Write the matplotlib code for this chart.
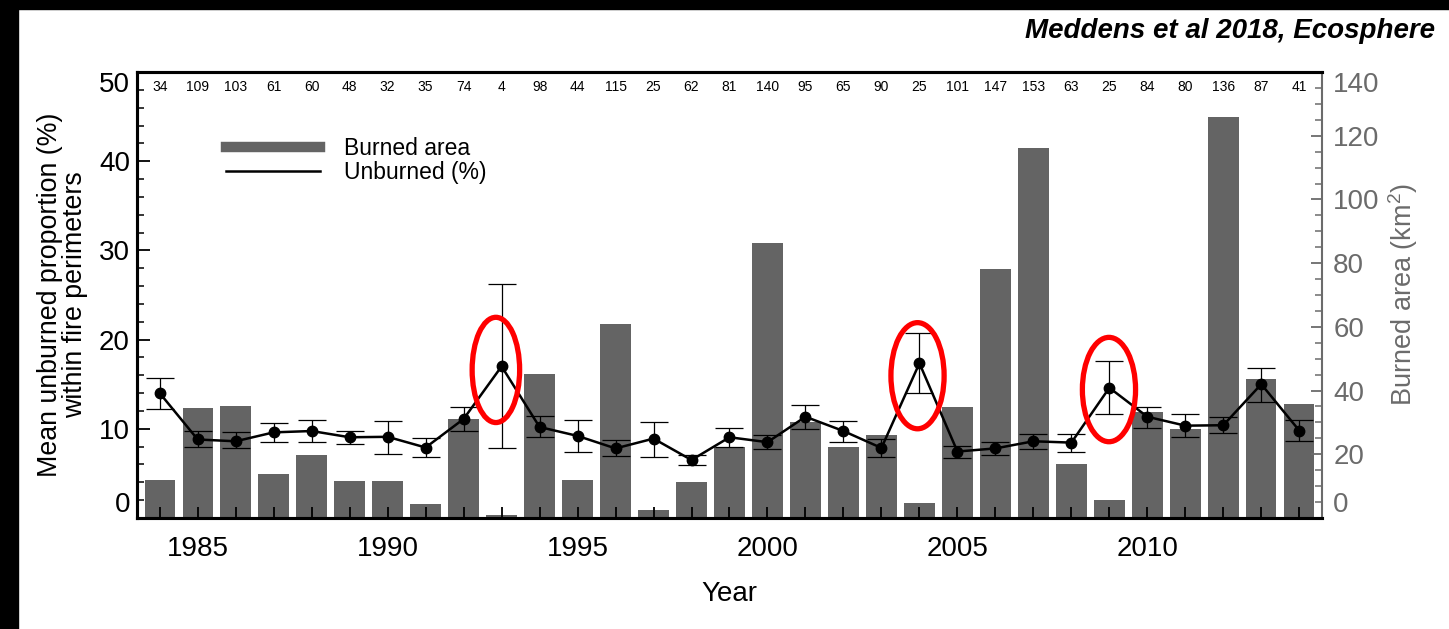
import numpy as np
import matplotlib
matplotlib.use("Agg")
import matplotlib.pyplot as plt
from matplotlib.patches import Ellipse, Rectangle
from matplotlib.ticker import MultipleLocator, FixedLocator, FuncFormatter
from matplotlib.lines import Line2D

plt.rcParams['font.family'] = ['Liberation Sans', 'DejaVu Sans']

years = list(range(1984, 2015))
n_fires = [34, 109, 103, 61, 60, 48, 32, 35, 74, 4, 98, 44, 115, 25, 62, 81,
           140, 95, 65, 90, 25, 101, 147, 153, 63, 25, 84, 80, 136, 87, 41]
unburned = [14.0, 8.8, 8.6, 9.6, 9.75, 9.05, 9.1, 7.9, 11.1, 17.0, 10.2, 9.2,
            7.8, 8.9, 6.5, 9.05, 8.5, 11.35, 9.75, 7.85, 17.35, 7.45, 7.8, 8.6,
            8.45, 14.6, 11.35, 10.35, 10.4, 15.0, 9.8]
unburned_hi = [15.7, 9.7, 9.6, 10.7, 11.0, 9.75, 10.9, 9.0, 12.4, 26.2, 11.4,
               11.0, 8.7, 10.8, 7.1, 10.1, 9.3, 12.7, 10.9, 8.9, 20.7, 8.1,
               8.55, 9.4, 9.45, 17.6, 12.45, 11.65, 11.3, 16.85, 11.0]
unburned_lo = [12.2, 8.0, 7.8, 8.5, 8.5, 8.3, 7.2, 6.8, 9.8, 7.9, 9.05, 7.35,
               6.9, 6.85, 5.95, 7.95, 7.75, 10.0, 8.5, 6.85, 14.05, 6.75, 7.05,
               7.7, 7.35, 11.65, 10.1, 9.05, 9.55, 13.0, 8.65]
burned_area = [11.9, 34.5, 35.2, 13.8, 19.8, 11.6, 11.6, 4.4, 31.1, 0.9, 45.2,
               11.9, 60.9, 2.5, 11.3, 22.3, 86.3, 30.2, 22.3, 26.0, 4.7, 34.8,
               78.2, 116.1, 16.9, 5.6, 33.3, 27.9, 125.9, 43.6, 35.9]
highlight_years = [1993, 2004, 2009]

bar_color = '#646464'
grey_axis = '#6b6b6b'

fig = plt.figure(figsize=(14.49, 6.29), dpi=100)
ax = fig.add_axes([0.0945, 0.1765, 0.8179, 0.709])
ax2 = ax.twinx()

# bars on right axis
ax2.bar(years, burned_area, width=0.8, color=bar_color, zorder=1)
ax2.set_ylim(0, 140)

# line on left axis drawn in front
ax.set_zorder(ax2.get_zorder() + 1)
ax.patch.set_visible(False)

u = np.array(unburned)
yerr = np.vstack([u - np.array(unburned_lo), np.array(unburned_hi) - u])
ax.errorbar(years, unburned, yerr=yerr, fmt='none', ecolor='black',
            elinewidth=0.9, capsize=10, capthick=0.9, zorder=3)
ax.plot(years, unburned, color='black', lw=1.8, marker='o', ms=7.5, zorder=4)

ax.set_xlim(1983.4, 2014.6)
ax.set_ylim(0, 50)

# count labels
for yr, c in zip(years, n_fires):
    ax.text(yr, 0.966, str(c), transform=ax.get_xaxis_transform(),
            ha='center', va='center', fontsize=10, color='black')

# highlight ellipses
ell_specs = {1993: (1992.85, 16.6, 1.25, 11.8),
             2004: (2003.95, 15.95, 1.4, 11.9),
             2009: (2008.99, 14.4, 1.4, 11.7)}
for yr in highlight_years:
    cx, cy, w, h = ell_specs[yr]
    ax.add_patch(Ellipse((cx, cy), w, h, fill=False, edgecolor='#ff0000',
                         lw=3.8, zorder=5))

# x axis ticks
ax.xaxis.set_major_locator(FixedLocator(years))
ax.xaxis.set_major_formatter(FuncFormatter(lambda v, p: f"{int(round(v))}" if int(round(v)) % 5 == 0 else ""))
ax.tick_params(axis='x', direction='in', length=8, width=1.3, labelsize=20, pad=13)

# left y axis
ax.set_yticks([0, 10, 20, 30, 40, 50])
ax.yaxis.set_minor_locator(MultipleLocator(2))
ax.tick_params(axis='y', which='major', direction='in', length=9, width=1.3,
               labelsize=20, pad=5)
ax.tick_params(axis='y', which='minor', direction='in', length=5, width=1.1)

# right y axis
ax2.set_yticks([0, 20, 40, 60, 80, 100, 120, 140])
ax2.yaxis.set_minor_locator(MultipleLocator(5))
ax2.tick_params(axis='y', which='major', direction='in', length=8, width=1.3,
                labelsize=20, pad=8, colors=grey_axis)
ax2.tick_params(axis='y', which='minor', direction='in', length=5, width=1.1,
                colors=grey_axis)

for sp in ['left', 'bottom', 'top']:
    ax.spines[sp].set_linewidth(2.2)
    ax2.spines[sp].set_linewidth(2.2)
ax.spines['right'].set_visible(False)
ax2.spines['right'].set_color(grey_axis)
ax2.spines['right'].set_linewidth(1.5)

ax.set_xlabel('Year', fontsize=20, labelpad=14)
ax.set_ylabel('Mean unburned proportion (%)\nwithin fire perimeters',
              fontsize=19.3, linespacing=0.95, labelpad=8)
ax2.set_ylabel('Burned area (km$^{\\mathregular{2}}$)', fontsize=19.5,
               color=grey_axis, labelpad=5)

# legend
handles = [Line2D([], [], color=bar_color, lw=7.5),
           Line2D([], [], color='black', lw=1.8)]
ax.legend(handles, ['Burned area', 'Unburned (%)'], loc='upper left',
          bbox_to_anchor=(0.058, 0.9), frameon=False, fontsize=16.5,
          handlelength=4.1, handletextpad=1.05, labelspacing=0.02)

# shift end tick labels inward
fig.canvas.draw()
lt = ax.yaxis.get_major_ticks()
lt[0].label1.set_va('bottom')
lt[-1].label1.set_va('top')
rt = ax2.yaxis.get_major_ticks()
rt[0].label2.set_va('bottom')
rt[-1].label2.set_va('top')

fig.text(0.990, 0.950, 'Meddens et al 2018, Ecosphere', ha='right', va='center',
         fontsize=20, fontweight='bold', fontstyle='italic')

# black frame strips
fig.patches.append(Rectangle((0, 0), 18 / 1449, 1, transform=fig.transFigure,
                             color='black', zorder=10))
fig.patches.append(Rectangle((0, 1 - 9 / 629), 1, 9 / 629, transform=fig.transFigure,
                             color='black', zorder=10))

fig.savefig('out.png', dpi=100)
